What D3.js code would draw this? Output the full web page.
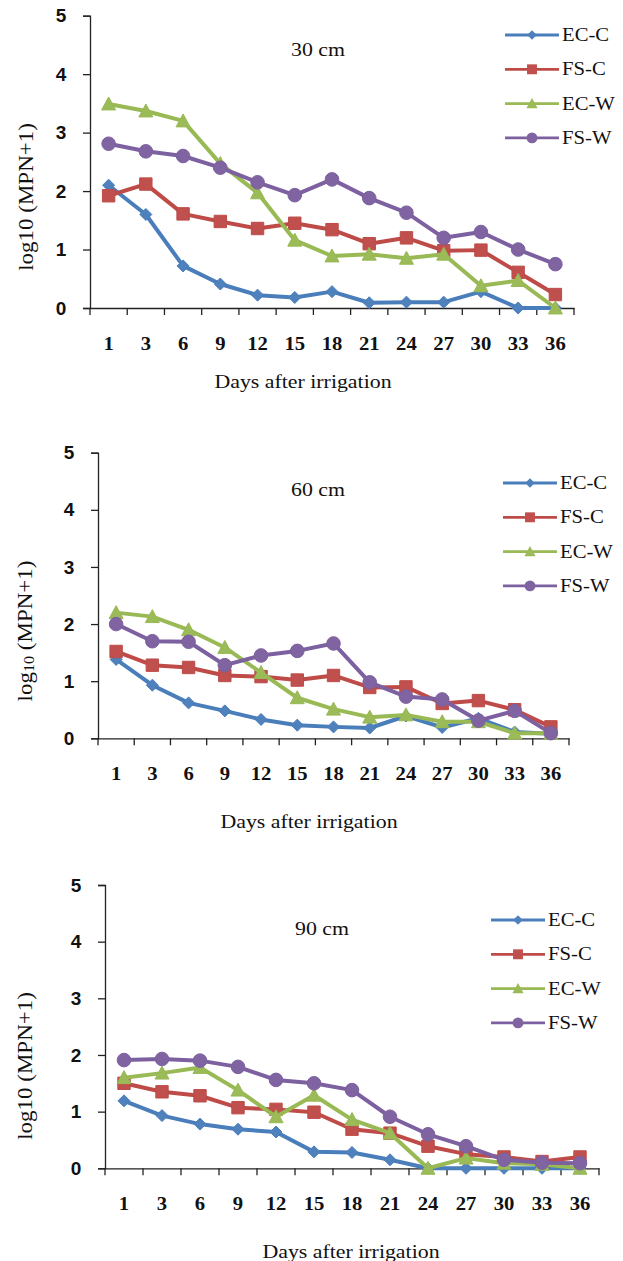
<!DOCTYPE html>
<html lang="en">
  <head>
    <meta charset="UTF-8" />
    <title>log10 (MPN+1) by depth</title>
    <script src="https://d3js.org/d3.v7.min.js"></script>
    <style>
      body { margin: 0; background: #fff; }
      svg text { fill: #111; }
      .serif { font-family: 'Liberation Serif', 'Times New Roman', serif; }
    </style>
  </head>
  <body>
    <svg id="chart" width="623" height="1261"></svg>

    <script>
      // days after irrigation (categories)
      let days = ['1', '3', '6', '9', '12', '15', '18', '21', '24', '27', '30', '33', '36']
      let yTicks = [0, 1, 2, 3, 4, 5]
      let seriesNames = ['EC-C', 'FS-C', 'EC-W', 'FS-W']

      // 30 cm
      let ecC30 = [2.1, 1.6, 0.72, 0.41, 0.22, 0.18, 0.28, 0.09, 0.1, 0.1, 0.28, 0, 0]
      let fsC30 = [1.92, 2.12, 1.61, 1.48, 1.36, 1.45, 1.34, 1.1, 1.2, 0.98, 0.99, 0.61, 0.23]
      let ecW30 = [3.49, 3.37, 3.2, 2.47, 1.97, 1.16, 0.89, 0.92, 0.85, 0.92, 0.38, 0.47, 0]
      let fsW30 = [2.81, 2.68, 2.6, 2.4, 2.15, 1.93, 2.2, 1.88, 1.63, 1.2, 1.3, 1.0, 0.75]

      // 60 cm
      let ecC60 = [1.38, 0.93, 0.62, 0.48, 0.33, 0.23, 0.2, 0.18, 0.39, 0.19, 0.35, 0.11, 0.08]
      let fsC60 = [1.52, 1.28, 1.24, 1.1, 1.08, 1.02, 1.1, 0.89, 0.9, 0.61, 0.66, 0.5, 0.2]
      let ecW60 = [2.2, 2.13, 1.9, 1.59, 1.15, 0.71, 0.51, 0.37, 0.41, 0.29, 0.29, 0.09, 0.09]
      let fsW60 = [2.0, 1.7, 1.69, 1.28, 1.45, 1.53, 1.66, 0.98, 0.73, 0.68, 0.31, 0.48, 0.09]

      // 90 cm
      let ecC90 = [1.19, 0.93, 0.78, 0.69, 0.64, 0.29, 0.28, 0.15, 0, 0, 0, 0, 0]
      let fsC90 = [1.5, 1.35, 1.28, 1.07, 1.04, 0.99, 0.69, 0.62, 0.39, 0.25, 0.2, 0.12, 0.2]
      let ecW90 = [1.6, 1.68, 1.78, 1.38, 0.91, 1.29, 0.86, 0.62, 0, 0.18, 0.09, 0.07, 0]
      let fsW90 = [1.91, 1.93, 1.9, 1.79, 1.56, 1.5, 1.38, 0.91, 0.6, 0.39, 0.15, 0.1, 0.09]

      let lineColors = ['#4A7EBB', '#BE4B48', '#98B954', '#7D60A0']
      let markColors = ['#4F81BD', '#C0504D', '#9BBB59', '#8064A2']

      // one entry per panel, layout
      let panels = [
        { label: '30 cm', values: [ecC30, fsC30, ecW30, fsW30], sub: false,
          left: 90, right: 574, top: 15.7, bottom: 308, labelX: 318, labelY: 50,
          xTitleX: 303, xTitleY: 382, yTitleX: 27, yTitleY: 197, legX: 505, legY: 35 },
        { label: '60 cm', values: [ecC60, fsC60, ecW60, fsW60], sub: true,
          left: 98, right: 569, top: 452.7, bottom: 738.3, labelX: 318, labelY: 490,
          xTitleX: 309, xTitleY: 822, yTitleX: 26, yTitleY: 631, legX: 503, legY: 483 },
        { label: '90 cm', values: [ecC90, fsC90, ecW90, fsW90], sub: false,
          left: 105, right: 599, top: 885, bottom: 1168.3, labelX: 322, labelY: 929,
          xTitleX: 351, xTitleY: 1252, yTitleX: 26, yTitleY: 1066, legX: 491, legY: 920 },
      ]

      // the scanned figure is a little wider than tall, so text is stretched
      let stretch = 1.15

      let svg = d3.select('#chart')

      // marker shapes drawn as paths around 0,0
      function markerPath(i, big) {
        let k = big ? 1 : 0.8
        if (i == 0) {
          let r = 6 * k
          return `M0,${-r}L${r},0L0,${r}L${-r},0Z`
        }
        if (i == 1) {
          let h = 6.2 * k
          return `M${-h},${-h}H${h}V${h}H${-h}Z`
        }
        if (i == 2) {
          let s = 7 * k
          return `M0,${-s}L${s},${s * 0.85}L${-s},${s * 0.85}Z`
        }
        let r = 6.8 * k
        return `M${r},0A${r},${r} 0 1,1 ${-r},0A${r},${r} 0 1,1 ${r},0Z`
      }

      function stretchedText(parent, x, y, rot, size) {
        return parent.append('text')
          .attr('class', 'serif')
          .attr('transform', `translate(${x},${y}) rotate(${rot}) scale(${stretch},1)`)
          .attr('text-anchor', 'middle')
          .attr('dominant-baseline', 'central')
          .style('font-size', size + 'px')
      }

      panels.forEach(function(p) {
        let g = svg.append('g')

        let x = d3.scaleBand().domain(days).range([p.left, p.right])
        let y = d3.scaleLinear().domain([0, 5]).range([p.bottom, p.top])
        let cx = d => x(d) + x.bandwidth() / 2

        // y axis
        let yAxis = g.append('g')
          .attr('transform', `translate(${p.left},0)`)
          .call(d3.axisLeft(y).tickValues(yTicks).tickSize(7).tickFormat(d3.format('d')))
        yAxis.select('.domain').attr('stroke', '#222').attr('stroke-width', 1.3)
        yAxis.selectAll('.tick line').attr('stroke', '#222').attr('stroke-width', 1.3)
        yAxis.selectAll('.tick text')
          .attr('x', -29)
          .attr('text-anchor', 'middle')
          .style('font-family', "'Liberation Sans', Arial, sans-serif")
          .style('font-weight', 'bold')
          .style('font-size', '19px')
          .style('fill', '#111')

        // x axis: labels at band centres, ticks at band edges
        let xAxis = g.append('g')
          .attr('transform', `translate(0,${p.bottom})`)
          .call(d3.axisBottom(x).tickSize(0).tickFormat(''))
        xAxis.select('.domain').attr('stroke', '#222').attr('stroke-width', 1.3)
        xAxis.selectAll('.tick')
          .append('text')
          .attr('transform', `translate(0,36) scale(${stretch},1)`)
          .attr('text-anchor', 'middle')
          .attr('dominant-baseline', 'central')
          .style('font-family', "'Liberation Serif', 'Times New Roman', serif")
          .style('font-weight', 'bold')
          .style('font-size', '18px')
          .style('fill', '#111')
          .text(d => d)
        let edges = days.map(d => x(d)).concat([p.right])
        xAxis.selectAll('line.edge')
          .data(edges)
          .enter()
          .append('line')
          .attr('class', 'edge')
          .attr('x1', d => d)
          .attr('x2', d => d)
          .attr('y1', 0)
          .attr('y2', 7)
          .attr('stroke', '#222')
          .attr('stroke-width', 1.3)

        // series
        seriesNames.forEach(function(name, i) {
          let vals = p.values[i]
          let line = d3.line().x((v, j) => cx(days[j])).y(v => y(v))
          g.append('path')
            .attr('d', line(vals))
            .attr('fill', 'none')
            .attr('stroke', lineColors[i])
            .attr('stroke-width', 4)
            .attr('stroke-linejoin', 'round')

          g.selectAll('path.m' + i)
            .data(vals)
            .enter()
            .append('path')
            .attr('class', 'm' + i)
            .attr('d', markerPath(i, true))
            .attr('transform', (v, j) => `translate(${cx(days[j])},${y(v)})`)
            .attr('fill', markColors[i])
            .attr('stroke', lineColors[i])
            .attr('stroke-width', 1)
        })

        // depth label
        stretchedText(g, p.labelX, p.labelY, 0, 19).text(p.label)

        // axis titles
        stretchedText(g, p.xTitleX, p.xTitleY, 0, 19).text('Days after irrigation')

        let yt = stretchedText(g, p.yTitleX, p.yTitleY, -90, 20)
        if (p.sub) {
          yt.append('tspan').text('log')
          yt.append('tspan').attr('baseline-shift', '-25%').style('font-size', '14px').text('10')
          yt.append('tspan').text(' (MPN+1)')
        } else {
          yt.text('log10 (MPN+1)')
        }

        // legend
        let leg = g.selectAll('g.leg')
          .data(seriesNames)
          .enter()
          .append('g')
          .attr('class', 'leg')
          .attr('transform', (d, i) => `translate(${p.legX},${p.legY + i * 34.3})`)
        leg.append('line')
          .attr('x1', 0)
          .attr('x2', 54)
          .attr('stroke', (d, i) => lineColors[i])
          .attr('stroke-width', 2.8)
        leg.append('path')
          .attr('d', (d, i) => markerPath(i, false))
          .attr('transform', 'translate(27,0)')
          .attr('fill', (d, i) => markColors[i])
        leg.append('text')
          .attr('class', 'serif')
          .attr('transform', `translate(57,0) scale(${stretch},1)`)
          .attr('dominant-baseline', 'central')
          .style('font-size', '18px')
          .text(d => d)
      })
    </script>
  </body>
</html>
